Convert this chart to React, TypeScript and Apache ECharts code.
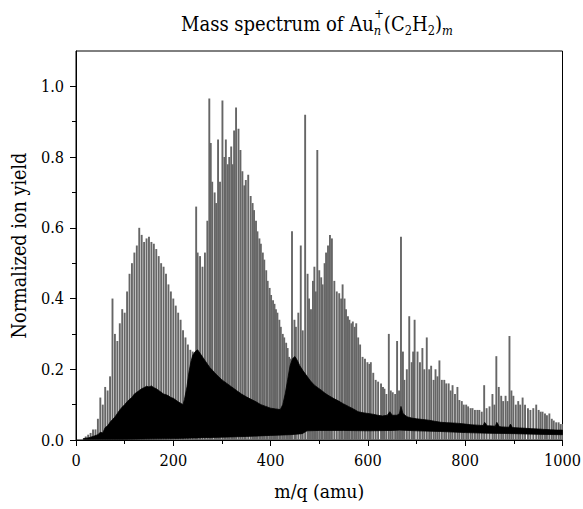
import React, { useEffect, useRef } from "react";
import * as echarts from "echarts";

// ---------------- data ----------------
// gray sticks: [m/q, normalized ion yield]
const sticks: [number, number][] = [
  [20, 0.01], [25, 0.015], [30, 0.02], [35, 0.03], [40, 0.03], [45, 0.06], [50, 0.12], [55, 0.1],
  [60, 0.15], [65, 0.14], [70, 0.18], [75, 0.4], [80, 0.3], [85, 0.28], [90, 0.33], [95, 0.37],
  [100, 0.36], [105, 0.42], [110, 0.47], [115, 0.5], [120, 0.53], [125, 0.55], [130, 0.6], [135, 0.58],
  [140, 0.56], [145, 0.57], [150, 0.575], [155, 0.56], [160, 0.555], [165, 0.54], [170, 0.52], [175, 0.5],
  [180, 0.49], [185, 0.47], [190, 0.44], [195, 0.42], [200, 0.4], [205, 0.38], [210, 0.36], [215, 0.34],
  [220, 0.31], [225, 0.29], [230, 0.27], [235, 0.255], [240, 0.25], [245, 0.24], [247, 0.66], [250, 0.53],
  [255, 0.52], [260, 0.49], [265, 0.53], [270, 0.62], [274, 0.966], [277, 0.84], [280, 0.73], [285, 0.7],
  [288, 0.67], [292, 0.85], [296, 0.73], [301, 0.96], [305, 0.8], [308, 0.85], [312, 0.78], [315, 0.8],
  [319, 0.83], [322, 0.78], [325, 0.875], [329, 0.94], [334, 0.88], [338, 0.82], [342, 0.76], [346, 0.72],
  [349, 0.735], [354, 0.75], [359, 0.69], [363, 0.67], [366, 0.65], [370, 0.62], [373, 0.59], [377, 0.57],
  [380, 0.555], [384, 0.53], [387, 0.51], [391, 0.48], [394, 0.45], [398, 0.43], [401, 0.41], [405, 0.395],
  [408, 0.385], [411, 0.37], [414, 0.36], [418, 0.34], [421, 0.32], [425, 0.3], [428, 0.29], [432, 0.275],
  [435, 0.26], [438, 0.235], [441, 0.23], [444, 0.59], [449, 0.34], [452, 0.32], [457, 0.36], [462, 0.55],
  [466, 0.31], [471, 0.92], [476, 0.47], [479, 0.4], [483, 0.37], [487, 0.45], [490, 0.49], [493, 0.42],
  [496, 0.82], [500, 0.48], [504, 0.46], [507, 0.44], [511, 0.5], [514, 0.53], [518, 0.55], [522, 0.58],
  [526, 0.57], [531, 0.45], [536, 0.42], [541, 0.415], [545, 0.4], [548, 0.44], [552, 0.4], [555, 0.37],
  [559, 0.35], [562, 0.34], [566, 0.33], [569, 0.335], [573, 0.32], [576, 0.33], [580, 0.29], [584, 0.27],
  [589, 0.235], [594, 0.23], [599, 0.22], [603, 0.215], [606, 0.22], [611, 0.19], [616, 0.17], [621, 0.165],
  [627, 0.16], [631, 0.15], [634, 0.145], [638, 0.13], [643, 0.3], [647, 0.14], [651, 0.135], [656, 0.13],
  [660, 0.28], [664, 0.14], [668, 0.575], [672, 0.25], [675, 0.17], [680, 0.2], [685, 0.35], [690, 0.22],
  [693, 0.25], [696, 0.34], [702, 0.25], [707, 0.22], [712, 0.26], [716, 0.2], [721, 0.29], [726, 0.2],
  [730, 0.21], [735, 0.17], [739, 0.2], [743, 0.18], [747, 0.225], [752, 0.17], [757, 0.17], [761, 0.16],
  [766, 0.16], [770, 0.14], [774, 0.155], [779, 0.13], [784, 0.15], [788, 0.113], [793, 0.11], [797, 0.1],
  [802, 0.1], [806, 0.095], [811, 0.09], [815, 0.09], [820, 0.085], [825, 0.085], [829, 0.085], [834, 0.08],
  [839, 0.155], [844, 0.09], [850, 0.095], [856, 0.13], [860, 0.1], [864, 0.237], [869, 0.15], [874, 0.125],
  [878, 0.11], [883, 0.125], [887, 0.11], [891, 0.294], [895, 0.14], [899, 0.125], [904, 0.1], [909, 0.11],
  [913, 0.1], [918, 0.12], [923, 0.1], [929, 0.09], [934, 0.085], [940, 0.09], [946, 0.1], [951, 0.085],
  [955, 0.08], [959, 0.08], [964, 0.075], [968, 0.07], [973, 0.075], [978, 0.06], [982, 0.055], [987, 0.05],
  [992, 0.05], [996, 0.045], [1000, 0.045],
];

// dense black band: upper edge and lower edge
const blackTop: [number, number][] = [
  [15, 0.004], [25, 0.006], [35, 0.01], [45, 0.015], [50, 0.022], [55, 0.02], [60, 0.035], [65, 0.04],
  [70, 0.05], [75, 0.058], [80, 0.065], [85, 0.075], [90, 0.085], [95, 0.093], [100, 0.1], [105, 0.108],
  [110, 0.115], [115, 0.12], [120, 0.13], [125, 0.135], [130, 0.14], [135, 0.145], [140, 0.148], [145, 0.152],
  [150, 0.15], [155, 0.153], [160, 0.148], [165, 0.145], [170, 0.14], [175, 0.135], [180, 0.13], [185, 0.128],
  [190, 0.125], [195, 0.12], [200, 0.118], [205, 0.113], [210, 0.108], [215, 0.104], [220, 0.1], [223, 0.115],
  [228, 0.15], [232, 0.19], [236, 0.22], [240, 0.24], [245, 0.25], [250, 0.255], [255, 0.245], [260, 0.235],
  [265, 0.225], [270, 0.215], [275, 0.205], [280, 0.198], [285, 0.19], [290, 0.183], [300, 0.17], [310, 0.16],
  [320, 0.15], [330, 0.14], [340, 0.13], [350, 0.122], [360, 0.115], [370, 0.108], [380, 0.1], [390, 0.095],
  [400, 0.09], [410, 0.088], [420, 0.086], [425, 0.1], [430, 0.13], [435, 0.17], [440, 0.21], [445, 0.23],
  [450, 0.236], [455, 0.225], [460, 0.21], [467, 0.195], [475, 0.18], [482, 0.167], [490, 0.155], [497, 0.148],
  [505, 0.14], [512, 0.132], [520, 0.125], [530, 0.117], [540, 0.11], [550, 0.102], [560, 0.095], [570, 0.088],
  [580, 0.08], [590, 0.077], [600, 0.075], [610, 0.073], [620, 0.07], [630, 0.068], [640, 0.07], [645, 0.08],
  [650, 0.07], [660, 0.07], [665, 0.075], [668, 0.095], [672, 0.075], [680, 0.066], [690, 0.062], [700, 0.06],
  [712, 0.058], [725, 0.056], [737, 0.053], [750, 0.05], [762, 0.049], [775, 0.048], [787, 0.047], [800, 0.045],
  [812, 0.043], [825, 0.042], [837, 0.041], [840, 0.05], [845, 0.04], [850, 0.04], [862, 0.039], [865, 0.05],
  [870, 0.038], [875, 0.037], [890, 0.036], [893, 0.045], [897, 0.035], [912, 0.034], [925, 0.033], [937, 0.032],
  [950, 0.031], [962, 0.03], [975, 0.029], [987, 0.028], [1000, 0.028],
];
const blackBase: [number, number][] = [
  [15, 0.002], [100, 0.002], [200, 0.004], [250, 0.006], [300, 0.008], [350, 0.01], [400, 0.013], [440, 0.015],
  [465, 0.018], [475, 0.026], [500, 0.027], [550, 0.027], [600, 0.026], [650, 0.027], [665, 0.028], [700, 0.026],
  [750, 0.024], [800, 0.021], [850, 0.019], [900, 0.018], [950, 0.016], [1000, 0.015],
];

const yMajorTicks = [0, 0.2, 0.4, 0.6, 0.8, 1.0];
const yMinorTicks = [0.1, 0.3, 0.5, 0.7, 0.9];
const X_NAME = "m/q (amu)";
const Y_NAME = "Normalized ion yield";

const FONT = "DejaVu Serif Condensed, DejaVu Serif, serif";

const canvas = typeof document !== "undefined" ? document.createElement("canvas") : null;
function measure(t: string, size: number, italic = false): number {
  const ctx = canvas!.getContext("2d")!;
  ctx.font = `${italic ? "italic " : ""}${size}px ${FONT}`;
  return ctx.measureText(t).width;
}
// font size so that the text takes the width it has in the reference
function fitSize(t: string, width: number): number {
  return (20 * width) / measure(t, 20);
}

function buildTitle(): any[] {
  const targetWidth = 272;
  const ratio = 14 / 22;
  type P = { t: string; sub: boolean; italic?: boolean; w: number; stack?: boolean };
  const parts: P[] = [
    { t: "Mass spectrum of Au", sub: false, w: 0 },
    { t: "n", sub: true, italic: true, w: 0, stack: true },
    { t: "(C", sub: false, w: 0 },
    { t: "2", sub: true, w: 0 },
    { t: "H", sub: false, w: 0 },
    { t: "2", sub: true, w: 0 },
    { t: ")", sub: false, w: 0 },
    { t: "m", sub: true, italic: true, w: 0 },
  ];
  const widthAt = (big: number) =>
    parts.reduce((s, p) => {
      const size = p.sub ? big * ratio : big;
      let w = measure(p.t, size, p.italic);
      if (p.stack) w = Math.max(w, measure("+", size)) + 0.5;
      return s + w;
    }, 0);
  const big = (20 * targetWidth) / widthAt(20);
  const small = big * ratio;
  const baseline = 31;
  const subBase = 34.5;
  const supMid = 13;
  let x = 317 - targetWidth / 2;
  const els: any[] = [];
  parts.forEach((p) => {
    const size = p.sub ? small : big;
    let w = measure(p.t, size, p.italic);
    if (p.stack) w = Math.max(w, measure("+", size)) + 0.5;
    els.push({
      type: "text",
      x,
      y: (p.sub ? subBase : baseline) - 0.34 * size,
      silent: true,
      style: {
        text: p.t,
        fontSize: size,
        fontFamily: FONT,
        fontStyle: p.italic ? "italic" : "normal",
        fill: "#000",
        align: "left",
        verticalAlign: "middle",
      },
    });
    if (p.stack) {
      els.push({
        type: "text",
        x: x + 0.5,
        y: supMid,
        silent: true,
        style: {
          text: "+",
          fontSize: small,
          fontFamily: FONT,
          fill: "#000",
          align: "left",
          verticalAlign: "middle",
        },
      });
    }
    x += w;
  });
  return els;
}

export default function App() {
  const ref = useRef<HTMLDivElement>(null);
  useEffect(() => {
    if (!ref.current) return;
    const chart = echarts.init(ref.current, undefined, { renderer: "svg" });
    const labelSize = fitSize("1000", 37);
    const xNameSize = fitSize(X_NAME, 90);
    const yNameSize = fitSize(Y_NAME, 186);
    const option: any = {
      animation: false,
      backgroundColor: "#fff",
      textStyle: { fontFamily: FONT },
      graphic: buildTitle(),
      grid: {
        left: 76,
        right: 20.5,
        top: 51,
        bottom: 69,
        show: true,
        borderColor: "#000",
        borderWidth: 1,
        backgroundColor: "transparent",
        containLabel: false,
        outerBoundsMode: "none",
      },
      xAxis: {
        type: "value",
        min: 0,
        max: 1000,
        interval: 200,
        name: X_NAME,
        nameLocation: "middle",
        nameGap: 42,
        nameTextStyle: { color: "#000", fontFamily: FONT, fontSize: xNameSize },
        axisLine: { show: true, lineStyle: { color: "#000", width: 1 } },
        axisTick: { show: true, inside: false, length: 6, lineStyle: { color: "#000", width: 1 } },
        minorTick: { show: true, splitNumber: 2, length: 4, lineStyle: { color: "#000", width: 1 } },
        axisLabel: {
          color: "#000",
          fontFamily: FONT,
          fontSize: labelSize,
          margin: 12,
          formatter: (v: number) => String(v),
        },
        splitLine: { show: false },
        minorSplitLine: { show: false },
      },
      yAxis: [
        {
          type: "value",
          min: 0,
          max: 1.1,
          interval: 0.1,
          name: Y_NAME,
          nameLocation: "middle",
          nameGap: 43,
          nameTextStyle: { color: "#000", fontFamily: FONT, fontSize: yNameSize },
          axisLine: { show: true, lineStyle: { color: "#000", width: 1 } },
          axisTick: {
            show: true,
            inside: false,
            length: 6,
            customValues: yMajorTicks,
            lineStyle: { color: "#000", width: 1 },
          },
          axisLabel: {
            color: "#000",
            fontFamily: FONT,
            fontSize: labelSize,
            margin: 12,
            customValues: yMajorTicks,
            formatter: (v: number) => v.toFixed(1),
          },
          splitLine: { show: false },
        },
        {
          type: "value",
          min: 0,
          max: 1.1,
          interval: 0.1,
          position: "left",
          axisLine: { show: false },
          axisTick: {
            show: true,
            inside: false,
            length: 4,
            customValues: yMinorTicks,
            lineStyle: { color: "#000", width: 1 },
          },
          axisLabel: { show: false },
          splitLine: { show: false },
        },
      ],
      series: [
        {
          type: "custom",
          name: "peaks",
          clip: true,
          data: sticks,
          encode: { x: 0, y: 1 },
          renderItem: (_params: any, api: any) => {
            const m = api.value(0);
            const h = api.value(1);
            const p0 = api.coord([m, 0]);
            const p1 = api.coord([m, h]);
            return {
              type: "line",
              shape: { x1: p0[0], y1: p0[1], x2: p1[0], y2: p1[1] },
              style: { stroke: "#666", lineWidth: 1.9 },
            };
          },
          z: 2,
        },
        {
          type: "custom",
          name: "dense",
          clip: true,
          data: [[0, 0]],
          renderItem: (_params: any, api: any) => {
            const pts: number[][] = [];
            blackTop.forEach((d) => pts.push(api.coord(d)));
            for (let i = blackBase.length - 1; i >= 0; i--) pts.push(api.coord(blackBase[i]));
            return {
              type: "polygon",
              shape: { points: pts },
              style: { fill: "#000", stroke: "#000", lineWidth: 0.8 },
            };
          },
          z: 3,
        },
      ],
    };
    chart.setOption(option);
    return () => chart.dispose();
  }, []);
  return (
    <div
      ref={ref}
      style={{ position: "fixed", left: 0, top: 0, width: 583, height: 509, background: "#fff" }}
    />
  );
}
